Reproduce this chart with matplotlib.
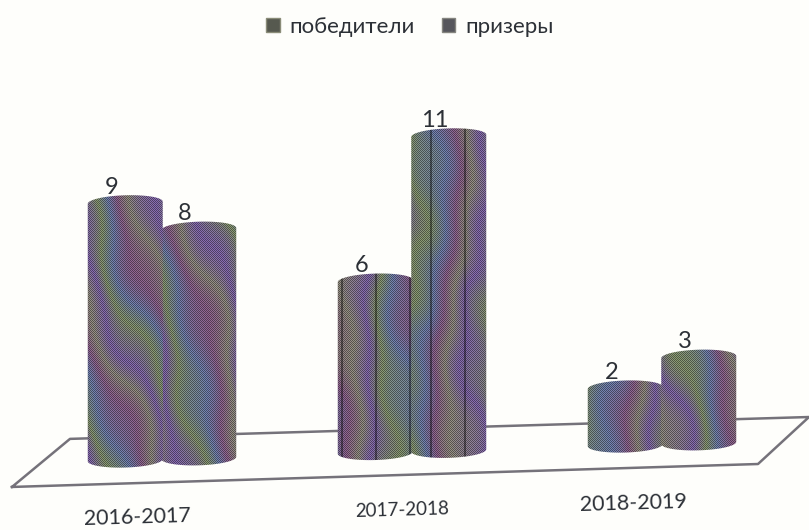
#!/usr/bin/env python3
# -*- coding: utf-8 -*-

import numpy as np
import matplotlib
matplotlib.use("Agg")
import matplotlib.pyplot as plt
from matplotlib.patches import Patch, Polygon
from matplotlib.transforms import Affine2D

years = ["2016-2017", "2017-2018", "2018-2019"]
winners = [9, 6, 2]
prize = [8, 11, 3]
series_names = ["победители", "призеры"]

plt.rcParams["font.family"] = ["Lato", "Open Sans", "DejaVu Sans"]

W, H = 809, 530
PX_X = 250.0   # pixels per category
PX_Y = 28.6    # pixels per value unit
BAR_HW = 0.15
OFFSET = 0.147
ELL = 0.26
TILT = 0.262   # the floor rises to the right
TEXT = "#2c3036"
PAPER = "#fefefb"

COLORS = np.array([[108, 80, 150], [112, 128, 88], [88, 104, 150],
                   [120, 76, 120], [122, 118, 104]], dtype=float)


def texture(phase, slant, stripes=0.0):
    # mottled scan colours with a fine halftone on top
    yy, xx = np.mgrid[0:H, 0:W]
    t = (xx / 17.0 + slant * yy / 45.0 + phase
         + 0.5 * np.sin(yy / 47.0 + xx / 83.0 + phase)
         + 0.35 * np.sin(xx / 11.0 + yy / 90.0)
         + 0.2 * np.sin(yy / 13.0 - xx / 17.0))
    idx = t % len(COLORS)
    lo = np.floor(idx).astype(int)
    hi = (lo + 1) % len(COLORS)
    f = (idx - lo)[..., None]
    img = COLORS[lo] * (1 - f) + COLORS[hi] * f
    img = 0.82 * img + 0.18 * img.mean(axis=2, keepdims=True)
    dots = np.where((xx + yy) % 2 == 0, 0.72, 1.26)[..., None]
    img = img * dots
    if stripes:
        # thin dark vertical streaks of the middle group
        lines = (xx + int(phase * 10)) % 34 < 2
        img = img * (1 - stripes * lines)[..., None]
    return np.clip(img, 0, 255).astype(np.uint8)


def cylinder(c, v):
    a = np.linspace(np.pi, 2 * np.pi, 40)
    low = np.column_stack([c + BAR_HW * np.cos(a), ELL * np.sin(a)])
    b = np.linspace(0, np.pi, 40)
    up = np.column_stack([c + BAR_HW * np.cos(b), v + ELL * np.sin(b)])
    return np.vstack([low, up])


fig = plt.figure(figsize=(W / 100, H / 100), dpi=100, facecolor=PAPER)
ax = fig.add_axes([0, 0, 1, 1])
xlim = (-162 / PX_X, (W - 162) / PX_X)
ylim = (-(H - 459) / PX_Y, 459 / PX_Y)
ax.axis("off")
skew = Affine2D(np.array([[1, 0, 0], [TILT, 1, 0], [0, 0, 1]])) + ax.transData

# floor
fx = [-0.6, 2.384, 2.588, -0.368, -0.6]
fy = [-0.82, -0.80, 0.79, 0.80, -0.82]
ax.plot(fx, fy, color="#75727a", lw=1.8, transform=skew, zorder=1, clip_on=False)

phases = [0.4, 2.1, 3.3, 1.2, 4.1, 0.0]
slants = [-1.0, -0.8, 0.0, 0.1, 0.2, -0.5]
k = 0
for i in range(len(years)):
    for sign, vals in zip((-1, 1), (winners, prize)):
        v = vals[i]
        c = i + sign * OFFSET
        patch = Polygon(cylinder(c, v), closed=True, transform=skew, fc="none", ec="none")
        ax.add_patch(patch)
        im = ax.imshow(texture(phases[k], slants[k], 0.4 if i == 1 else 0.0),
                       extent=(*xlim, *ylim), origin="upper", aspect="auto",
                       interpolation="nearest", zorder=2 + v / 20.0)
        im.set_clip_path(patch)
        ax.text(c - 0.055, v + 0.56, str(v), transform=skew, ha="center", va="center",
                fontsize=17, color=TEXT, zorder=5)
        k += 1

# category labels sit a bit left of their groups
label_shift = [-0.10, -0.04, -0.116]
label_size = [15.5, 13.5, 15.5]
for i, lab in enumerate(years):
    ax.text(i + label_shift[i], -2.03, lab, transform=skew, ha="center", va="center",
            rotation=1.7, rotation_mode="anchor", fontsize=label_size[i], color=TEXT)

handles = [Patch(fc="#56594f", ec="#8a8c78"), Patch(fc="#56565c", ec="#85857f")]
ax.legend(handles, series_names, ncol=2, frameon=False, loc="center",
          bbox_to_anchor=(410 / W, 1 - 27 / H), fontsize=16, labelcolor=TEXT,
          handlelength=0.6, handleheight=0.6, handletextpad=0.45, columnspacing=1.2)

ax.set_xlim(*xlim)
ax.set_ylim(*ylim)
fig.savefig("out.png", dpi=100, facecolor=PAPER)
